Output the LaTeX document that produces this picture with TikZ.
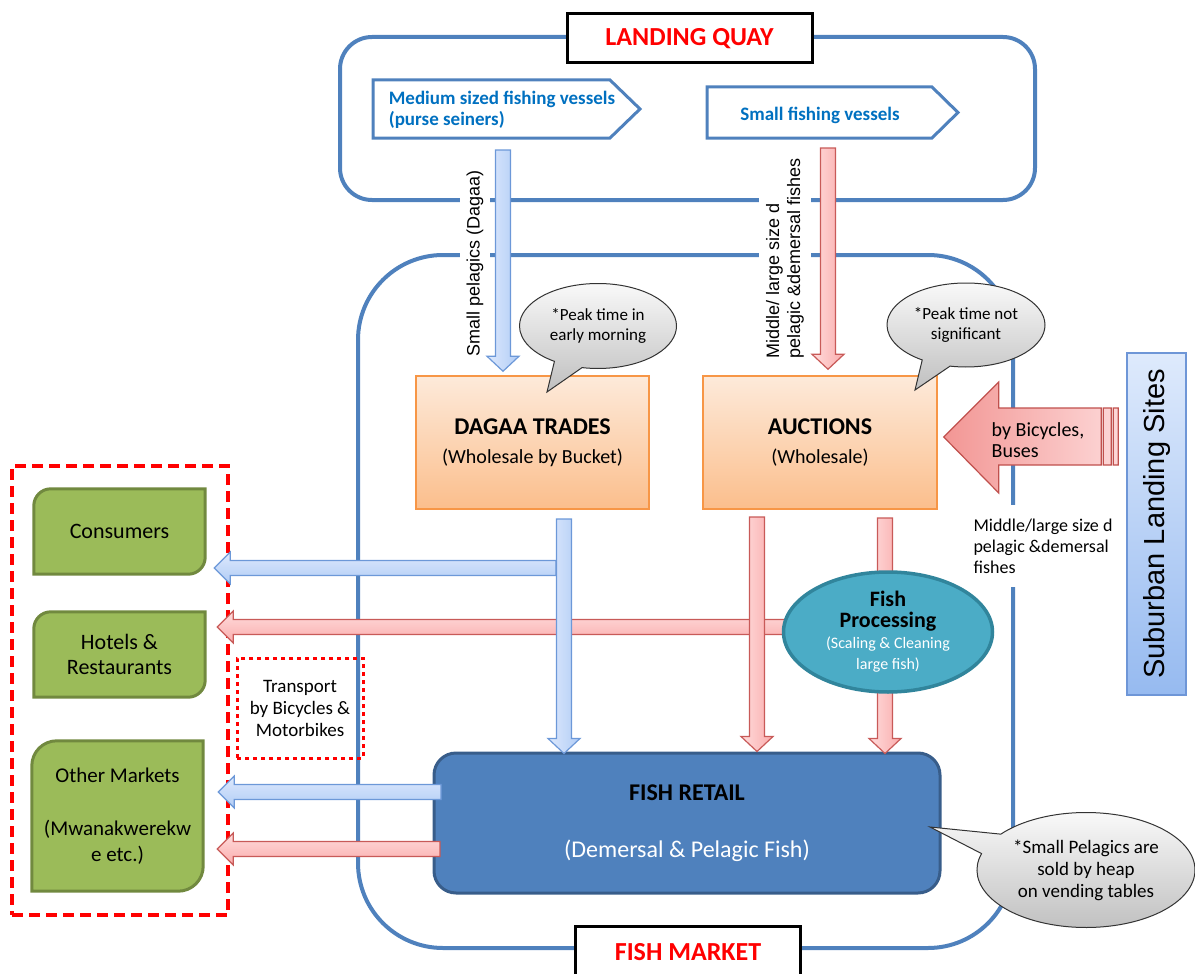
\documentclass[tikz,border=0pt]{standalone}
\usepackage{fontspec}
\setmainfont{Carlito}
\newfontfamily\arialfont{Liberation Sans}
\usetikzlibrary{calc,shapes.geometric,shapes.callouts,backgrounds}

\definecolor{frameblue}{RGB}{79,129,189}
\definecolor{vesselblue}{RGB}{0,112,192}
\definecolor{arrowblueA}{RGB}{222,234,253}
\definecolor{arrowblueB}{RGB}{176,203,245}
\definecolor{arrowblueline}{RGB}{108,152,216}
\definecolor{arrowredA}{RGB}{255,220,220}
\definecolor{arrowredB}{RGB}{250,172,172}
\definecolor{arrowredline}{RGB}{200,90,88}
\definecolor{peachA}{RGB}{253,234,218}
\definecolor{peachB}{RGB}{251,190,140}
\definecolor{peachline}{RGB}{247,150,70}
\definecolor{leafgreen}{RGB}{155,187,89}
\definecolor{leafline}{RGB}{113,137,63}
\definecolor{procteal}{RGB}{75,172,198}
\definecolor{procline}{RGB}{49,133,156}
\definecolor{retailline}{RGB}{56,93,138}
\definecolor{subA}{RGB}{222,234,252}
\definecolor{subB}{RGB}{150,186,240}
\definecolor{subline}{RGB}{110,150,215}
\definecolor{pinkA}{RGB}{242,150,148}
\definecolor{pinkB}{RGB}{253,215,215}
\definecolor{busline}{RGB}{192,80,77}

\tikzstyle{lineframe}=[draw=frameblue,line width=4pt]
\tikzstyle{titlebox}=[draw=black,line width=3pt,fill=white,text=red,font=\bfseries\fontsize{26}{30}\selectfont]
\tikzstyle{vesselline}=[draw=frameblue,line width=3pt]
\tikzstyle{vesseltext}=[text=vesselblue,align=left,font=\bfseries\fontsize{19}{21.5}\selectfont]
\tikzstyle{sidelabel}=[rotate=90,fill=white,inner xsep=2pt,inner ysep=7pt,font=\arialfont\fontsize{18}{21}\selectfont]
\tikzstyle{tradebox}=[draw=peachline,line width=1.5pt,top color=peachA,bottom color=peachB,minimum width=233pt,minimum height=133pt,align=center,font=\fontsize{20}{29}\selectfont]
\tikzstyle{bubble}=[ellipse callout,draw=black!80,line width=1pt,top color=gray!5,bottom color=gray!50,callout pointer arc=22,align=center,inner sep=0pt,font=\fontsize{17}{20}\selectfont]
\tikzstyle{clientbox}=[minimum width=171pt,align=center,font=\fontsize{22}{25}\selectfont]
\tikzstyle{leafshape}=[fill=leafgreen,draw=leafline,line width=3pt]
\tikzstyle{bluedown}=[draw=arrowblueline,line width=1.2pt,left color=arrowblueA,right color=arrowblueB]
\tikzstyle{blueleft}=[draw=arrowblueline,line width=1.2pt,top color=arrowblueA,bottom color=arrowblueB]
\tikzstyle{reddown}=[draw=arrowredline,line width=1.2pt,left color=arrowredA,right color=arrowredB]
\tikzstyle{redleft}=[draw=arrowredline,line width=1.2pt,top color=arrowredA,bottom color=arrowredB]
\tikzstyle{busarrow}=[draw=busline,line width=1.2pt,left color=pinkA,right color=pinkB]

\newcommand{\downblock}[3]{%
  \draw[#1] let \p1=#2, \p2=#3 in
    (\x1-7.5pt,\y1) -- (\x1-7.5pt,\y2+15pt) -- (\x1-16pt,\y2+15pt) -- (\x1,\y2)
    -- (\x1+16pt,\y2+15pt) -- (\x1+7.5pt,\y2+15pt) -- (\x1+7.5pt,\y1) -- cycle;}
\newcommand{\leftblock}[3]{%
  \draw[#1] let \p1=#2, \p2=#3 in
    (\x1,\y1+7.5pt) -- (\x2+16pt,\y1+7.5pt) -- (\x2+16pt,\y1+16pt) -- (\x2,\y1)
    -- (\x2+16pt,\y1-16pt) -- (\x2+16pt,\y1-7.5pt) -- (\x1,\y1-7.5pt) -- cycle;}
\newcommand{\leafbox}[2]{%
  \draw[leafshape] (#1.south west) -- ([yshift=-#2pt]#1.north west)
    arc[start angle=180,end angle=270,radius=#2] -- (#1.north east)
    -- ([yshift=#2pt]#1.south east) arc[start angle=0,end angle=90,radius=#2] -- cycle;}

\begin{document}
\begin{tikzpicture}[x=1pt,y=-1pt]
\useasboundingbox (0,0) rectangle (1195,974);

\node[lineframe,rounded corners=32pt,minimum width=695pt,minimum height=163pt] (quay) at (687.5,118.5) {};
\node[lineframe,rounded corners=85pt,minimum width=655pt,minimum height=693pt] (market) at (685.5,601.5) {};

\node[sidelabel] (lab1) at (475,263) {Small pelagics (Dagaa)};
\node[sidelabel,align=left] (lab2) at (785,258) {Middle/ large size d\\pelagic \&demersal fishes};
\node[fill=white,align=left,inner xsep=2pt,inner ysep=14pt,font=\fontsize{18}{21}\selectfont] (mid) at (1043,546) {Middle/large size d\\pelagic \&demersal\\fishes};

\node[titlebox,minimum width=245pt,minimum height=49pt] (quaytitle) at (689.5,38.5) {LANDING QUAY};
\node[titlebox,minimum width=225pt,minimum height=52pt] (markettitle) at (688,952) {FISH MARKET};

\draw[vesselline] (373,80) -- (610,80) -- (640,109) -- (610,138) -- (373,138) -- cycle;
\draw[vesselline] (707,87) -- (932,87) -- (958,112.5) -- (932,138) -- (707,138) -- cycle;
\node[vesseltext] (medves) at (502,110) {Medium sized fishing vessels\\(purse seiners)};
\node[vesseltext] (smallves) at (820,115) {Small fishing vessels};

\node[tradebox] (dagaa) at (532.5,442.5) {{\bfseries\fontsize{24}{29}\selectfont DAGAA TRADES}\\(Wholesale by Bucket)};
\node[tradebox,minimum width=234pt] (auct) at (820,442.5) {{\bfseries\fontsize{24}{29}\selectfont AUCTIONS}\\(Wholesale)};

\node[draw=retailline,line width=3pt,fill=frameblue,rounded corners=22pt,minimum width=506pt,minimum height=140pt,align=center,font=\fontsize{24}{29}\selectfont] (retail) at (687,823) {\textbf{FISH RETAIL}\\[28pt]\textcolor{white}{(Demersal \& Pelagic Fish)}};

\node[clientbox,minimum height=85pt] (cons) at (119.5,531.5) {Consumers};
\node[clientbox,minimum height=85pt] (hotel) at (119.5,654.5) {Hotels \&\\Restaurants};
\node[clientbox,minimum height=150pt,font=\fontsize{21}{26.5}\selectfont] (other) at (117.5,816) {Other Markets\\[26.5pt](Mwanakwerekw\\e etc.)};
\begin{scope}[on background layer]
\foreach \nm/\rad in {cons/17,hotel/17,other/25} {\leafbox{\nm}{\rad}}
\end{scope}

\node[draw=red,line width=3pt,dash pattern=on 4pt off 4pt,minimum width=126pt,minimum height=100pt,align=center,font=\fontsize{19}{22}\selectfont] (trans) at (300,708) {Transport\\by Bicycles \&\\Motorbikes};
\node[draw=red,line width=3.5pt,dash pattern=on 11pt off 6pt,minimum width=216pt,minimum height=449pt] (clients) at (120,690.5) {};
\node[draw=subline,line width=1.5pt,top color=subA,bottom color=subB,minimum width=59pt,minimum height=342pt,inner sep=0pt] (sub) at (1156.5,524) {\rotatebox{90}{\arialfont\fontsize{29}{34}\selectfont Suburban Landing Sites}};

\coordinate (q1) at (503,150);
\coordinate (q2) at (828,148);
\coordinate (d1) at (564,519);
\coordinate (a1) at (757,517);
\coordinate (a2) at (885,518);
\coordinate (h1) at (556,568);
\coordinate (h2) at (800,627);
\coordinate (h3) at (441,792);
\coordinate (h4) at (440,849);

\leftblock{blueleft}{(h1)}{([xshift=9pt]cons.east)}
\leftblock{redleft}{(h2)}{([xshift=12pt]hotel.east)}
\leftblock{blueleft}{(h3)}{([xshift=15pt]other.east)}
\leftblock{redleft}{(h4)}{([xshift=14pt]other.east)}

\downblock{bluedown}{(q1)}{([yshift=4pt]dagaa.north)}
\downblock{reddown}{(q2)}{([yshift=6pt]auct.north)}
\downblock{bluedown}{(d1)}{([yshift=-2pt]retail.north)}
\downblock{reddown}{(a1)}{(retail.north)}
\downblock{reddown}{(a2)}{([yshift=-2pt]retail.north)}

\node[ellipse,draw=procline,line width=3.5pt,fill=procteal,minimum width=209pt,minimum height=120pt,inner sep=0pt,align=center,font=\bfseries\fontsize{22}{21}\selectfont] (proc) at (888,632) {Fish\\Processing\\{\mdseries\color{white}\fontsize{16}{19}\selectfont (Scaling \& Cleaning}\\{\mdseries\color{white}\fontsize{16}{19}\selectfont large fish)}};

\draw[busarrow] let \p1=(auct.east), \p2=(sub.west) in
  (\x1+6pt,\y1+5.5pt) -- (\x1+61pt,\y1+60.5pt) -- (\x1+61pt,\y1+34.5pt) -- (\x2-25pt,\y1+34.5pt)
  -- (\x2-25pt,\y1-22.5pt) -- (\x1+61pt,\y1-22.5pt) -- (\x1+61pt,\y1-50.5pt) -- cycle
  (\x2-23pt,\y1+34.5pt) rectangle (\x2-15pt,\y1-22.5pt)
  (\x2-13pt,\y1+34.5pt) rectangle (\x2-8pt,\y1-22.5pt);
\node[align=left,font=\fontsize{20}{21}\selectfont] (bybus) at (1038,440) {by Bicycles,\\Buses};

\node[bubble,minimum width=157pt,minimum height=85pt,callout absolute pointer={(547,392)}] (peak1) at (598,326) {*Peak time in\\early morning};
\node[bubble,minimum width=158pt,minimum height=84pt,callout absolute pointer={(915,390)}] (peak2) at (966,325) {*Peak time not\\significant};
\node[bubble,minimum width=218pt,minimum height=115pt,font=\fontsize{19}{22}\selectfont,callout absolute pointer={(930,827)}] (heap) at (1086,870) {*Small Pelagics are\\sold by heap\\on vending tables};
\end{tikzpicture}
\end{document}
